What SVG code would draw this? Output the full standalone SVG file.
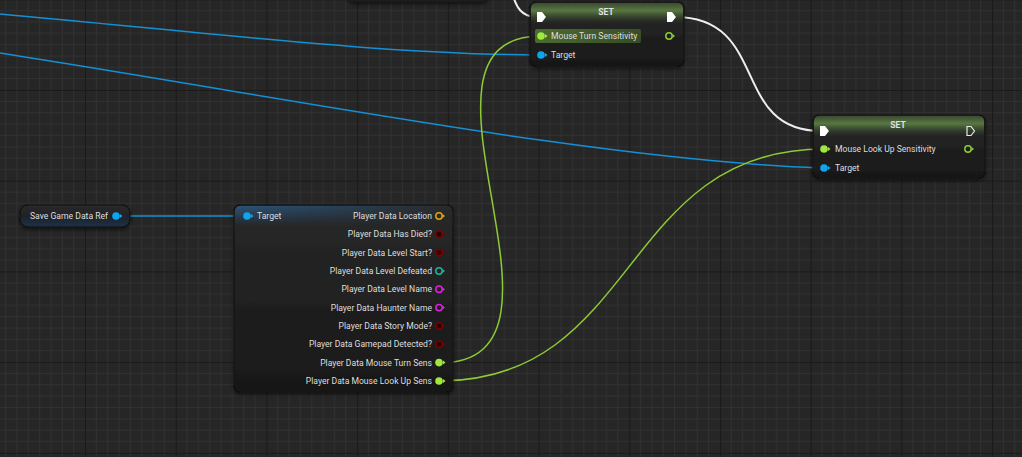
<svg xmlns="http://www.w3.org/2000/svg" width="1022" height="457" viewBox="0 0 1022 457">
<defs>
<pattern id="grid" x="-5.7" y="-0.7" width="90.7" height="90.7" patternUnits="userSpaceOnUse">
<rect width="90.7" height="90.7" fill="#262626"/>
<path d="M11.34 0V90.7M22.68 0V90.7M34.01 0V90.7M45.35 0V90.7M56.69 0V90.7M68.03 0V90.7M79.36 0V90.7M0 11.34H90.7M0 22.68H90.7M0 34.01H90.7M0 45.35H90.7M0 56.69H90.7M0 68.03H90.7M0 79.36H90.7" stroke="#313131" stroke-width="1" fill="none"/>
<path d="M0.5 0V90.7M0 0.5H90.7" stroke="#1a1a1a" stroke-width="1.2" fill="none"/>
</pattern>
<linearGradient id="body" x1="0" y1="0" x2="0" y2="1">
<stop offset="0" stop-color="#282828"/>
<stop offset="1" stop-color="#181818"/>
</linearGradient>
<linearGradient id="setHead" x1="0" y1="0" x2="0" y2="1">
<stop offset="0" stop-color="#3d4a33"/>
<stop offset="0.35" stop-color="#587840"/>
<stop offset="0.7" stop-color="#3a4a30" stop-opacity="0.6"/>
<stop offset="1" stop-color="#2a2c27" stop-opacity="0"/>
</linearGradient>
<linearGradient id="breakHead" x1="0" y1="0" x2="1" y2="0">
<stop offset="0" stop-color="#2b5479"/>
<stop offset="0.55" stop-color="#283f53"/>
<stop offset="1" stop-color="#2a2a2a"/>
</linearGradient>
<linearGradient id="fadeV" x1="0" y1="0" x2="0" y2="1">
<stop offset="0" stop-color="#fff" stop-opacity="1"/>
<stop offset="1" stop-color="#fff" stop-opacity="0"/>
</linearGradient>
<mask id="headMask" maskContentUnits="objectBoundingBox">
<rect width="1" height="1" fill="url(#fadeV)"/>
</mask>
<linearGradient id="pill" x1="0" y1="0" x2="0" y2="1">
<stop offset="0" stop-color="#2a2a2a"/>
<stop offset="0.5" stop-color="#202326"/>
<stop offset="1" stop-color="#183247"/>
</linearGradient>
<linearGradient id="hl" x1="0" y1="0" x2="1" y2="0">
<stop offset="0" stop-color="#557a32" stop-opacity="0.85"/>
<stop offset="1" stop-color="#46652a" stop-opacity="0.65"/>
</linearGradient>
<filter id="shadow" x="-10%" y="-10%" width="120%" height="130%">
<feDropShadow dx="0" dy="2" stdDeviation="2" flood-color="#000" flood-opacity="0.6"/>
</filter>
</defs>
<style>
.node{fill:url(#body);stroke:#0e0e0e;stroke-width:1}
.t{font-family:Roboto,"Liberation Sans",sans-serif;font-size:8.6px;fill:#dedede}
.title{font-family:Roboto,"Liberation Sans",sans-serif;font-size:8.6px;font-weight:bold;fill:#e0e0e0;text-anchor:middle}
.r{text-anchor:end}
.wire{fill:none;stroke-width:1.5}
.blue{stroke:#1590d5}
.green{stroke:#8ccb35}
.white{stroke:#eeeeee;stroke-width:2}
</style>
<rect width="1022" height="457" fill="url(#grid)"/>

<g id="node-top">
<rect x="348" y="-40" width="140" height="42" rx="6" fill="#1b1b1b" filter="url(#shadow)"/>
</g>

<g id="connectors">
<path class="wire white" d="M512 -8 C516 8 522 17 537 17"/>
<path class="wire white" d="M675 17 C770 17 730 131 821 131"/>
<path class="wire blue" d="M0 14 C200 32 380 54 537 55"/>
<path class="wire blue" d="M0 53 C300 100 600 160 820 168"/>
<path class="wire blue" d="M116 216 L247 216"/>
<path class="wire green" d="M439 363 C600 363 385 36 541 36"/>
<path class="wire green" d="M439 381 C640 381 620 149 824 149"/>
</g>

<g id="node-set1">
<rect class="node" x="530" y="2" width="154" height="64" rx="6" filter="url(#shadow)"/>
<rect x="531" y="3" width="152" height="22" rx="5" fill="url(#setHead)"/>
<text class="title" x="606" y="15">SET</text>
<path d="M537 12 H542 L546 17 L542 22 H537 Z" fill="#ffffff"/>
<path d="M667 12 H672 L676 17 L672 22 H667 Z" fill="#ffffff"/>
<rect x="535" y="29" width="106" height="14" rx="2" fill="url(#hl)"/>
<circle cx="541" cy="36" r="3.8" fill="#9fe83c"/>
<path d="M545 34 L547.5 36 L545 38 Z" fill="#9fe83c"/>
<text class="t" x="551" y="39.1">Mouse Turn Sensitivity</text>
<circle cx="669" cy="36" r="3.2" fill="none" stroke="#8ccb35" stroke-width="1.5"/>
<path d="M672.5 34 L675 36 L672.5 38 Z" fill="#8ccb35"/>
<circle cx="541" cy="55" r="3.8" fill="#0ea5f0"/>
<path d="M545 53 L547.5 55 L545 57 Z" fill="#0ea5f0"/>
<text class="t" x="551" y="58.1">Target</text>
</g>

<g id="node-set2">
<rect class="node" x="813" y="115" width="172" height="63" rx="6" filter="url(#shadow)"/>
<rect x="814" y="116" width="170" height="22" rx="5" fill="url(#setHead)"/>
<text class="title" x="898" y="127.5">SET</text>
<path d="M820 126 H825 L829 131 L825 136 H820 Z" fill="#ffffff"/>
<path d="M967 126.5 H971 L974.5 131 L971 135.5 H967 Z" fill="none" stroke="#e8e8e8" stroke-width="1.2"/>
<circle cx="824" cy="149" r="3.8" fill="#9fe83c"/>
<path d="M828 147 L830.5 149 L828 151 Z" fill="#9fe83c"/>
<text class="t" x="835" y="152.1">Mouse Look Up Sensitivity</text>
<circle cx="968" cy="149" r="3.2" fill="none" stroke="#8ccb35" stroke-width="1.5"/>
<path d="M971.5 147 L974 149 L971.5 151 Z" fill="#8ccb35"/>
<circle cx="824" cy="168" r="3.8" fill="#0ea5f0"/>
<path d="M828 166 L830.5 168 L828 170 Z" fill="#0ea5f0"/>
<text class="t" x="835" y="171.1">Target</text>
</g>

<g id="node-savegame">
<rect x="20" y="205" width="110" height="22" rx="8" fill="url(#pill)" stroke="#0e0e0e" filter="url(#shadow)"/>
<text class="t" x="30" y="219.1">Save Game Data Ref</text>
<circle cx="116" cy="216" r="3.8" fill="#0ea5f0"/>
<path d="M120 214 L122.5 216 L120 218 Z" fill="#0ea5f0"/>
</g>

<g id="node-break">
<rect class="node" x="234" y="205" width="219" height="187" rx="6" filter="url(#shadow)"/>
<rect x="235" y="206" width="217" height="20" rx="5" fill="url(#breakHead)" mask="url(#headMask)"/>
<circle cx="247" cy="216" r="3.8" fill="#0ea5f0"/>
<path d="M251 214 L253.5 216 L251 218 Z" fill="#0ea5f0"/>
<text class="t" x="257" y="219.1">Target</text>

<text class="t r" x="432" y="219.1">Player Data Location</text>
<circle cx="439" cy="216" r="3.2" fill="none" stroke="#e3a20c" stroke-width="1.5"/>
<path d="M442.5 214 L445 216 L442.5 218 Z" fill="#e3a20c"/>

<text class="t r" x="432" y="237.4">Player Data Has Died?</text>
<circle cx="439" cy="234.3" r="3.2" fill="#2a0000" stroke="#7a0000" stroke-width="1.5"/>
<path d="M442.5 232.3 L445 234.3 L442.5 236.3 Z" fill="#7a0000"/>

<text class="t r" x="432" y="255.7">Player Data Level Start?</text>
<circle cx="439" cy="252.6" r="3.2" fill="#2a0000" stroke="#7a0000" stroke-width="1.5"/>
<path d="M442.5 250.6 L445 252.6 L442.5 254.6 Z" fill="#7a0000"/>

<text class="t r" x="432" y="274.1">Player Data Level Defeated</text>
<circle cx="439" cy="271" r="3.2" fill="none" stroke="#1db49c" stroke-width="1.5"/>
<path d="M442.5 269 L445 271 L442.5 273 Z" fill="#1db49c"/>

<text class="t r" x="432" y="292.4">Player Data Level Name</text>
<circle cx="439" cy="289.3" r="3.2" fill="none" stroke="#e01ee0" stroke-width="1.5"/>
<path d="M442.5 287.3 L445 289.3 L442.5 291.3 Z" fill="#e01ee0"/>

<text class="t r" x="432" y="310.7">Player Data Haunter Name</text>
<circle cx="439" cy="307.6" r="3.2" fill="none" stroke="#e01ee0" stroke-width="1.5"/>
<path d="M442.5 305.6 L445 307.6 L442.5 309.6 Z" fill="#e01ee0"/>

<text class="t r" x="432" y="329.1">Player Data Story Mode?</text>
<circle cx="439" cy="326" r="3.2" fill="#2a0000" stroke="#7a0000" stroke-width="1.5"/>
<path d="M442.5 324 L445 326 L442.5 328 Z" fill="#7a0000"/>

<text class="t r" x="432" y="347.4">Player Data Gamepad Detected?</text>
<circle cx="439" cy="344.3" r="3.2" fill="#2a0000" stroke="#7a0000" stroke-width="1.5"/>
<path d="M442.5 342.3 L445 344.3 L442.5 346.3 Z" fill="#7a0000"/>

<text class="t r" x="432" y="365.7">Player Data Mouse Turn Sens</text>
<circle cx="439" cy="362.6" r="3.8" fill="#9fe83c"/>
<path d="M443 360.6 L445.5 362.6 L443 364.6 Z" fill="#9fe83c"/>

<text class="t r" x="432" y="384.1">Player Data Mouse Look Up Sens</text>
<circle cx="439" cy="381" r="3.8" fill="#9fe83c"/>
<path d="M443 379 L445.5 381 L443 383 Z" fill="#9fe83c"/>
</g>
</svg>
